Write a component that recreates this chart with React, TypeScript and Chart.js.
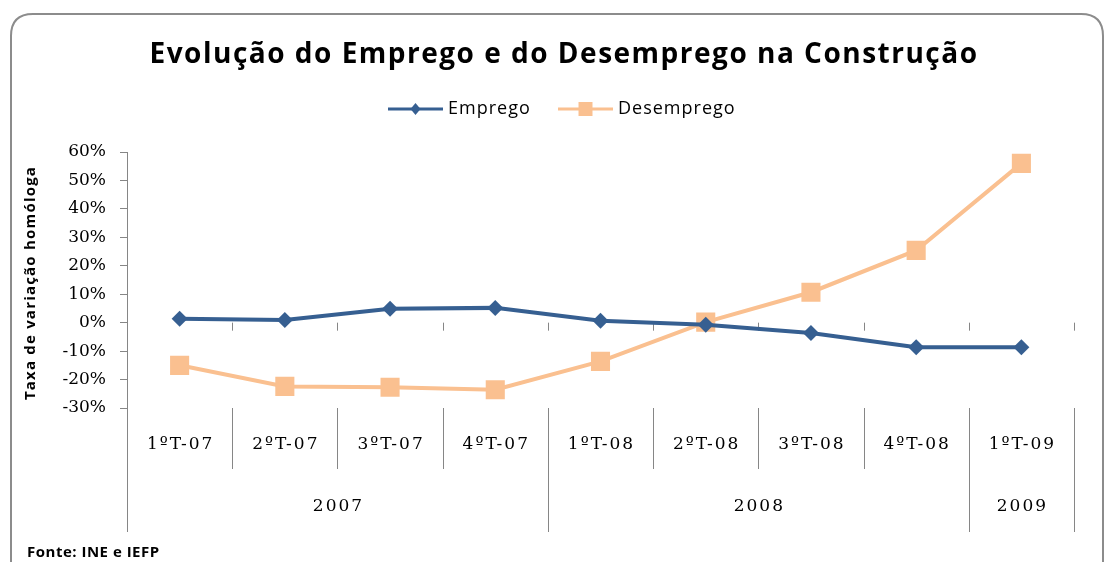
import React, { useEffect, useRef } from "react";
import { Chart, registerables } from "chart.js";

Chart.register(...registerables);

const titleText = "Evolução do Emprego e do Desemprego na Construção";
const yAxisTitle = "Taxa de variação homóloga";
const sourceText = "Fonte: INE e IEFP";
const categories = ["1ºT-07", "2ºT-07", "3ºT-07", "4ºT-07", "1ºT-08", "2ºT-08", "3ºT-08", "4ºT-08", "1ºT-09"];
const years = ["2007", "2008", "2009"];
const yearSpans = [4, 4, 1];
const emprego = [1.4, 0.9, 4.9, 5.2, 0.7, -0.7, -3.6, -8.6, -8.6];
const desemprego = [-15.0, -22.4, -22.7, -23.6, -13.6, 0.2, 10.7, 25.4, 56.0];
const yMin = -30;
const yMax = 60;
const yStep = 10;

const BLUE = "#365F91";
const ORANGE = "#FAC090";
const GRAY = "#868686";

const decor = {
  id: "decor",
  beforeDatasetsDraw(chart: any) {
    const ctx = chart.ctx;
    const x = chart.scales.x;
    const y = chart.scales.y;
    const n = categories.length;
    const half = (x.getPixelForValue(1) - x.getPixelForValue(0)) / 2;
    const y0 = y.getPixelForValue(0);
    ctx.save();
    ctx.strokeStyle = GRAY;
    ctx.lineWidth = 1;
    for (let i = 0; i < n; i++) {
      const bx = Math.round(x.getPixelForValue(i) + half) + 0.5;
      ctx.beginPath();
      ctx.moveTo(bx, y0);
      ctx.lineTo(bx, y0 + 8);
      ctx.stroke();
    }
    ctx.restore();
  },
  afterDraw(chart: any) {
    const ctx = chart.ctx;
    const x = chart.scales.x;
    const ca = chart.chartArea;
    const n = categories.length;
    const half = (x.getPixelForValue(1) - x.getPixelForValue(0)) / 2;
    ctx.save();

    // outer rounded border
    ctx.strokeStyle = "#8C8C8C";
    ctx.lineWidth = 2;
    const L = 11, T = 14, R = 1103, B = 600, r = 22;
    ctx.beginPath();
    ctx.moveTo(L, B);
    ctx.lineTo(L, T + r);
    ctx.quadraticCurveTo(L, T, L + r, T);
    ctx.lineTo(R - r, T);
    ctx.quadraticCurveTo(R, T, R, T + r);
    ctx.lineTo(R, B);
    ctx.stroke();

    // title
    ctx.fillStyle = "#000";
    ctx.textAlign = "center";
    ctx.textBaseline = "middle";
    ctx.font = "bold 28px 'Open Sans'";
    (ctx as any).letterSpacing = "1.5px";
    ctx.fillText(titleText, 564, 55);

    // legend
    ctx.font = "18px 'Open Sans'";
    (ctx as any).letterSpacing = "1px";
    ctx.textAlign = "left";
    const ly = 109;
    const items = [
      { x: 388, color: BLUE, label: chart.data.datasets[0].label, style: "diamond" },
      { x: 558, color: ORANGE, label: chart.data.datasets[1].label, style: "square" },
    ];
    items.forEach((it) => {
      ctx.strokeStyle = it.color;
      ctx.fillStyle = it.color;
      ctx.lineWidth = 3;
      ctx.beginPath();
      ctx.moveTo(it.x, ly);
      ctx.lineTo(it.x + 55, ly);
      ctx.stroke();
      const cx = it.x + 27.5;
      ctx.beginPath();
      if (it.style === "diamond") {
        ctx.moveTo(cx, ly - 6);
        ctx.lineTo(cx + 5, ly);
        ctx.lineTo(cx, ly + 6);
        ctx.lineTo(cx - 5, ly);
        ctx.closePath();
      } else {
        ctx.rect(cx - 7, ly - 7, 14, 14);
      }
      ctx.fill();
      ctx.fillStyle = "#000";
      ctx.fillText(it.label, it.x + 60, ly);
    });

    // y axis title
    ctx.save();
    ctx.translate(31, (ca.top + ca.bottom) / 2 + 3);
    ctx.rotate(-Math.PI / 2);
    ctx.textAlign = "center";
    ctx.textBaseline = "middle";
    ctx.font = "bold 15px 'Open Sans'";
    (ctx as any).letterSpacing = "1.2px";
    ctx.fillStyle = "#000";
    ctx.fillText(yAxisTitle, 0, 0);
    ctx.restore();

    // category separators
    ctx.strokeStyle = GRAY;
    ctx.lineWidth = 1;
    const groupStarts = new Set<number>();
    let acc = 0;
    groupStarts.add(0);
    yearSpans.forEach((s) => { acc += s; groupStarts.add(acc); });
    for (let i = 0; i <= n; i++) {
      const bx = Math.round(x.getPixelForValue(0) - half + i * 2 * half) + 0.5;
      const bottom = groupStarts.has(i) ? ca.bottom + 124 : ca.bottom + 61;
      ctx.beginPath();
      ctx.moveTo(bx, ca.bottom);
      ctx.lineTo(bx, bottom);
      ctx.stroke();
    }

    // category labels
    ctx.fillStyle = "#000";
    ctx.textAlign = "center";
    ctx.textBaseline = "middle";
    ctx.font = "17px 'DejaVu Serif'";
    (ctx as any).letterSpacing = "2px";
    categories.forEach((c, i) => {
      ctx.fillText(c, x.getPixelForValue(i) + 1, ca.bottom + 37);
    });
    // year labels
    let start = 0;
    years.forEach((yr, k) => {
      const end = start + yearSpans[k] - 1;
      const cx = (x.getPixelForValue(start) + x.getPixelForValue(end)) / 2;
      ctx.fillText(yr, cx + 1, ca.bottom + 99);
      start = end + 1;
    });

    // source
    ctx.textAlign = "left";
    ctx.font = "bold 15px 'Open Sans'";
    (ctx as any).letterSpacing = "0.5px";
    ctx.fillText(sourceText, 27, 553);
    (ctx as any).letterSpacing = "0px";
    ctx.restore();
  },
};

export default function App() {
  const ref = useRef<HTMLCanvasElement>(null);
  useEffect(() => {
    if (!ref.current) return;
    const chart = new Chart(ref.current, {
      type: "line",
      data: {
        labels: categories,
        datasets: [
          {
            label: "Emprego",
            data: emprego,
            borderColor: BLUE,
            backgroundColor: BLUE,
            borderWidth: 4,
            pointStyle: "rectRot",
            pointRadius: 8,
            pointBorderWidth: 0,
            tension: 0,
          },
          {
            label: "Desemprego",
            data: desemprego,
            borderColor: ORANGE,
            backgroundColor: ORANGE,
            borderWidth: 4,
            pointStyle: "rect",
            pointRadius: 13.5,
            pointBorderWidth: 0,
            tension: 0,
          },
        ],
      },
      options: {
        responsive: false,
        animation: false,
        layout: { padding: { top: 152, left: 0, right: 34, bottom: 154 } },
        plugins: { legend: { display: false }, title: { display: false }, tooltip: { enabled: false } },
        scales: {
          x: {
            offset: true,
            ticks: { display: false },
            grid: { display: false },
            border: { display: false },
            afterFit: (s: any) => { s.height = 0; },
          },
          y: {
            min: yMin,
            max: yMax,
            ticks: {
              stepSize: yStep,
              callback: (v: any) => v + "%",
              color: "#000",
              font: { family: "DejaVu Serif", size: 17 },
              padding: 14,
            },
            grid: { drawOnChartArea: false, color: GRAY, tickLength: 7 },
            border: { display: true, color: GRAY, width: 1 },
            afterFit: (s: any) => { s.width = 127; },
          },
        },
      },
      plugins: [decor],
    });
    return () => chart.destroy();
  }, []);
  return (
    <div style={{ position: "fixed", left: 0, top: 0, width: 1108, height: 562, background: "#fff" }}>
      <canvas ref={ref} width={1108} height={562} />
    </div>
  );
}
